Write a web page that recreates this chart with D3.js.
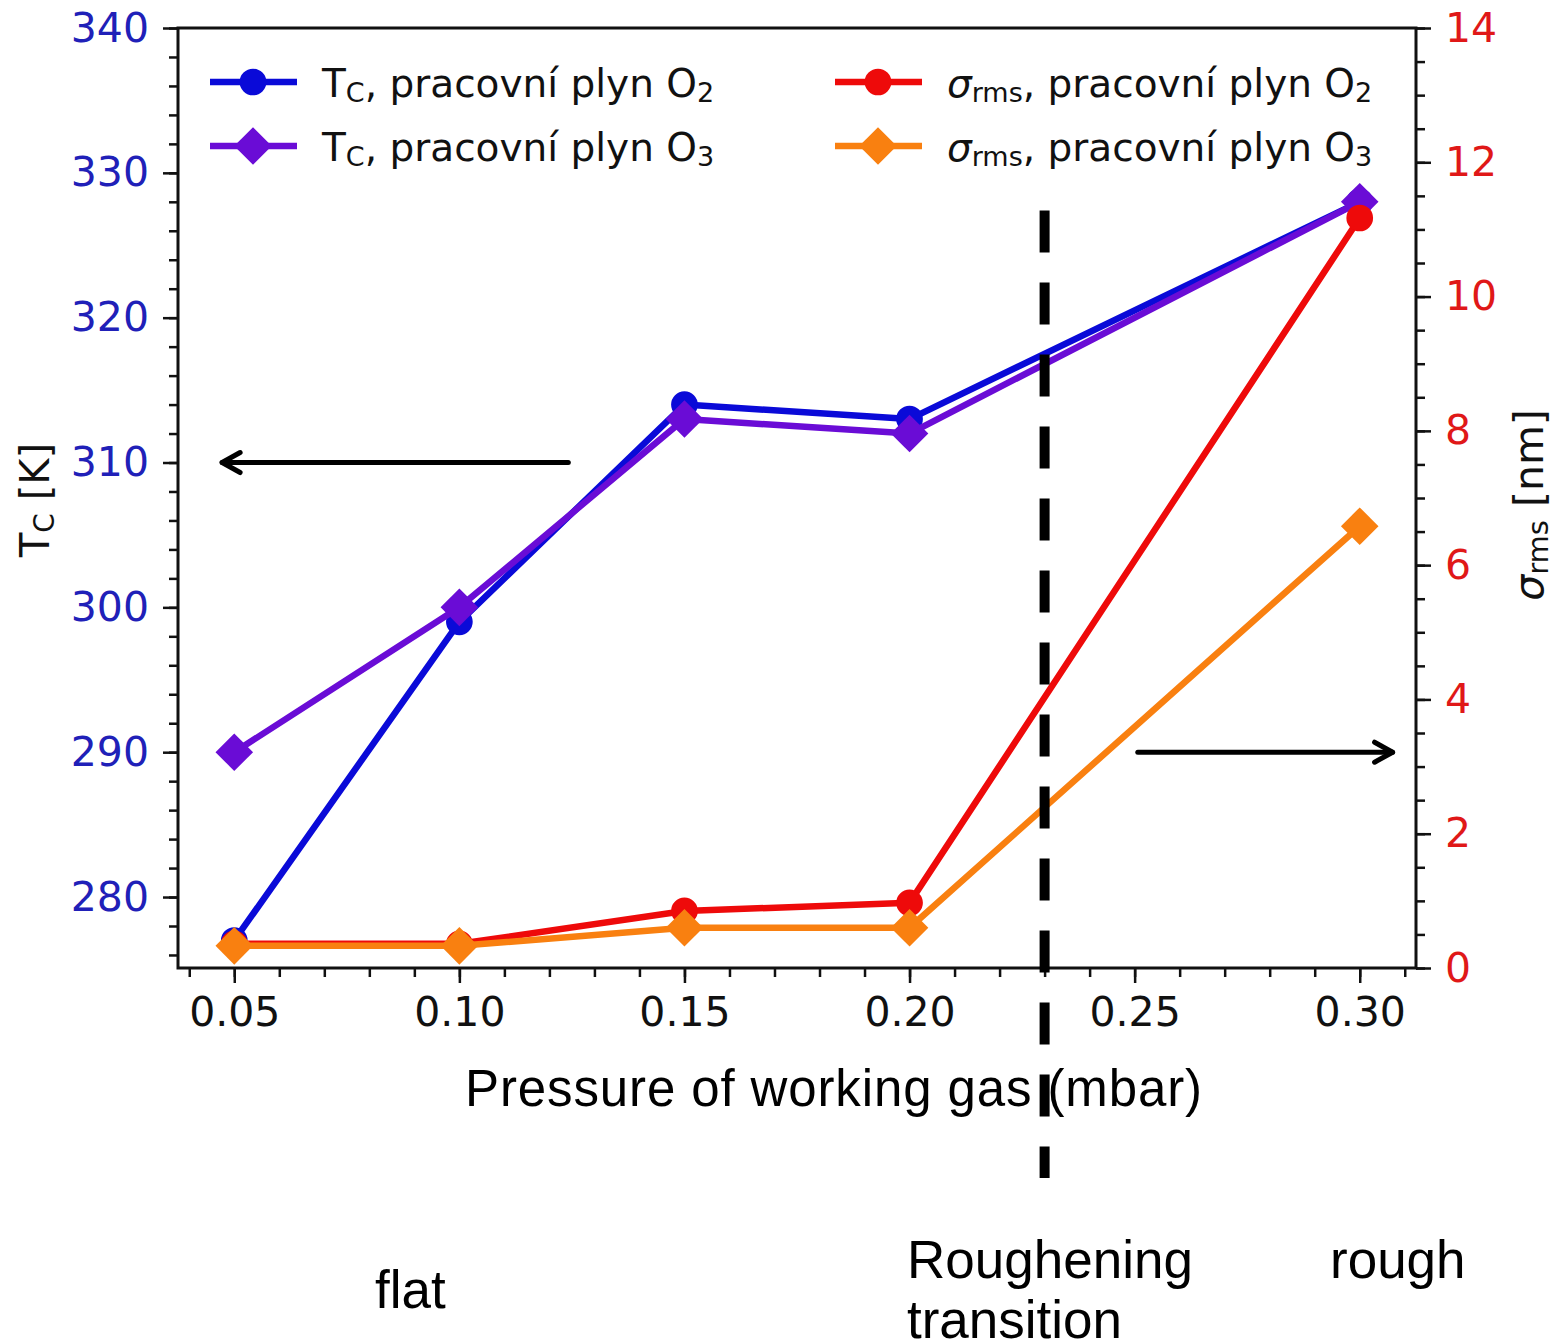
<!DOCTYPE html>
<html>
<head>
<meta charset="utf-8">
<script src="https://cdn.jsdelivr.net/npm/d3@7"></script>
<style>
  body { margin: 0; background: #fff; }
  svg { display: block; }
  .tick text { font-family: "DejaVu Sans", sans-serif; }
</style>
</head>
<body>
<svg id="chart" width="1555" height="1344"></svg>
<script>
const pressures = [0.05, 0.10, 0.15, 0.20, 0.30];
const tcO2 = [277, 299, 314, 313, 328];
const tcO3 = [290, 300, 313, 312, 328];
const sigmaO2 = [0.36, 0.36, 0.85, 0.97, 11.17];
const sigmaO3 = [0.33, 0.33, 0.6, 0.6, 6.58];

const xTicks = [0.05, 0.10, 0.15, 0.20, 0.25, 0.30];
const tcTicks = [280, 290, 300, 310, 320, 330, 340];
const sigmaTicks = [0, 2, 4, 6, 8, 10, 12, 14];

const transitionX = 0.23;
const transitionTc = [327.4, 260.6];
const leftArrow = { x: [0.1242, 0.0473], tc: 310 };
const rightArrow = { x: [0.2507, 0.3073], tc: 290 };

const margin = { top: 28, left: 178, width: 1238, height: 940 };

const svg = d3.select('#chart');
const g = svg.append('g').attr('transform', `translate(${margin.left},${margin.top})`);

const x = d3.scaleLinear().domain([0.0375, 0.3125]).range([0, margin.width]);
const yTc = d3.scaleLinear().domain([275.1, 340]).range([margin.height, 0]);
const ySigma = d3.scaleLinear().domain([0, 14]).range([margin.height, 0]);

const blue = '#0a0ad8';
const purple = '#6a0cd6';
const red = '#ee0a0a';
const orange = '#f98010';

// minor ticks first, majors on top
function minor(axis) {
  return sel => sel.call(axis).call(s => s.selectAll('text').remove()).call(s => s.select('.domain').remove());
}

g.append('g').attr('transform', `translate(0,${margin.height})`)
  .call(minor(d3.axisBottom(x).tickValues(d3.range(4, 32).map(d => d / 100)).tickSize(9)))
  .selectAll('line').attr('stroke-width', 2);

g.append('g')
  .call(minor(d3.axisLeft(yTc).tickValues(d3.range(276, 341, 2)).tickSize(9)))
  .selectAll('line').attr('stroke-width', 2);

g.append('g').attr('transform', `translate(${margin.width},0)`)
  .call(minor(d3.axisRight(ySigma).tickValues(d3.range(0, 14.1, 0.5)).tickSize(9)))
  .selectAll('line').attr('stroke-width', 2);

const xAxis = g.append('g').attr('transform', `translate(0,${margin.height})`)
  .call(d3.axisBottom(x).tickValues(xTicks).tickFormat(d3.format('.2f')).tickSize(15).tickPadding(14));
xAxis.selectAll('text').attr('font-size', 41).attr('fill', '#111');

const leftAxis = g.append('g')
  .call(d3.axisLeft(yTc).tickValues(tcTicks).tickSize(15).tickPadding(14));
leftAxis.selectAll('text').attr('font-size', 41).attr('fill', '#2020b8');

const rightAxis = g.append('g').attr('transform', `translate(${margin.width},0)`)
  .call(d3.axisRight(ySigma).tickValues(sigmaTicks).tickSize(15).tickPadding(14));
rightAxis.selectAll('text').attr('font-size', 41).attr('fill', '#e01818');

g.selectAll('.tick line').attr('stroke', '#111').attr('stroke-width', 2.5);
g.selectAll('.domain').remove();

g.append('rect')
  .attr('width', margin.width).attr('height', margin.height)
  .attr('fill', 'none').attr('stroke', '#111').attr('stroke-width', 3);

// series
const diamond = d3.symbol().type(d3.symbolDiamond2).size(900);
const circle = d3.symbol().type(d3.symbolCircle).size(560);

function drawSeries(values, yScale, color, symbol) {
  const pts = pressures.map((p, i) => [p, values[i]]);
  g.append('path')
    .attr('d', d3.line().x(d => x(d[0])).y(d => yScale(d[1]))(pts))
    .attr('fill', 'none').attr('stroke', color).attr('stroke-width', 6.5)
    .attr('stroke-linejoin', 'round');
  g.append('g').selectAll('path').data(pts).join('path')
    .attr('transform', d => `translate(${x(d[0])},${yScale(d[1])})`)
    .attr('d', symbol).attr('fill', color);
}

drawSeries(tcO2, yTc, blue, circle);
drawSeries(tcO3, yTc, purple, diamond);
drawSeries(sigmaO2, ySigma, red, circle);
drawSeries(sigmaO3, ySigma, orange, diamond);

// transition line
g.append('line')
  .attr('x1', x(transitionX)).attr('x2', x(transitionX))
  .attr('y1', yTc(transitionTc[0])).attr('y2', yTc(transitionTc[1]))
  .attr('stroke', '#000').attr('stroke-width', 10).attr('stroke-dasharray', '42,30');

// arrows
function arrow(a) {
  const x1 = x(a.x[0]), x2 = x(a.x[1]), yy = yTc(a.tc);
  const dir = Math.sign(x2 - x1);
  g.append('line').attr('x1', x1).attr('x2', x2).attr('y1', yy).attr('y2', yy)
    .attr('stroke', '#000').attr('stroke-width', 5).attr('stroke-linecap', 'round');
  g.append('path')
    .attr('d', `M${x2 - dir * 18},${yy - 10}L${x2},${yy}L${x2 - dir * 18},${yy + 10}`)
    .attr('fill', 'none').attr('stroke', '#000').attr('stroke-width', 5)
    .attr('stroke-linecap', 'round').attr('stroke-linejoin', 'round');
}
arrow(leftArrow);
arrow(rightArrow);

// legend
const legendItems = [
  { col: 0, row: 0, color: blue, symbol: circle, sym: 'T', sub: 'C', gas: '2', italic: false },
  { col: 0, row: 1, color: purple, symbol: diamond, sym: 'T', sub: 'C', gas: '3', italic: false },
  { col: 1, row: 0, color: red, symbol: circle, sym: 'σ', sub: 'rms', gas: '2', italic: true },
  { col: 1, row: 1, color: orange, symbol: diamond, sym: 'σ', sub: 'rms', gas: '3', italic: true }
];
const legend = svg.append('g');
const colX = [210, 835];
legendItems.forEach(item => {
  const lx = colX[item.col];
  const ly = 82 + item.row * 64;
  legend.append('line').attr('x1', lx).attr('x2', lx + 87).attr('y1', ly).attr('y2', ly)
    .attr('stroke', item.color).attr('stroke-width', 6.5);
  legend.append('path').attr('transform', `translate(${lx + 43},${ly})`)
    .attr('d', item.symbol).attr('fill', item.color);
  const t = legend.append('text')
    .attr('x', lx + 112).attr('y', ly + 15)
    .attr('font-family', 'DejaVu Sans').attr('font-size', 39).attr('fill', '#111');
  t.append('tspan').text(item.sym).attr('font-style', item.italic ? 'italic' : 'normal');
  t.append('tspan').text(item.sub).attr('font-size', 27).attr('dy', 5);
  t.append('tspan').text(', pracovní plyn O').attr('dy', -5);
  t.append('tspan').text(item.gas).attr('font-size', 27).attr('dy', 5);
});

// axis titles
const leftTitle = svg.append('text')
  .attr('transform', 'translate(49,500) rotate(-90)')
  .attr('text-anchor', 'middle')
  .attr('font-family', 'DejaVu Sans').attr('font-size', 40).attr('fill', '#111');
leftTitle.append('tspan').text('T');
leftTitle.append('tspan').text('C').attr('font-size', 28).attr('dy', 5);
leftTitle.append('tspan').text(' [K]').attr('dy', -5);

const rightTitle = svg.append('text')
  .attr('transform', 'translate(1543,505) rotate(-90)')
  .attr('text-anchor', 'middle')
  .attr('font-family', 'DejaVu Sans').attr('font-size', 41).attr('fill', '#111');
rightTitle.append('tspan').text('σ').attr('font-style', 'italic');
rightTitle.append('tspan').text('rms').attr('font-size', 29).attr('dy', 5);
rightTitle.append('tspan').text(' [nm]').attr('dy', -5);

svg.append('text').attr('x', 465).attr('y', 1106)
  .attr('font-family', 'Liberation Sans, Arial, sans-serif').attr('font-size', 51).attr('fill', '#000')
  .attr('textLength', 737).attr('lengthAdjust', 'spacing')
  .text('Pressure of working gas (mbar)');

const notes = [
  { text: 'flat', x: 375, y: 1308 },
  { text: 'Roughening', x: 907, y: 1278 },
  { text: 'transition', x: 907, y: 1338 },
  { text: 'rough', x: 1330, y: 1278 }
];
svg.append('g').selectAll('text').data(notes).join('text')
  .attr('x', d => d.x).attr('y', d => d.y)
  .attr('font-family', 'Liberation Sans, Arial, sans-serif').attr('font-size', 53).attr('fill', '#000')
  .text(d => d.text);
</script>
</body>
</html>
